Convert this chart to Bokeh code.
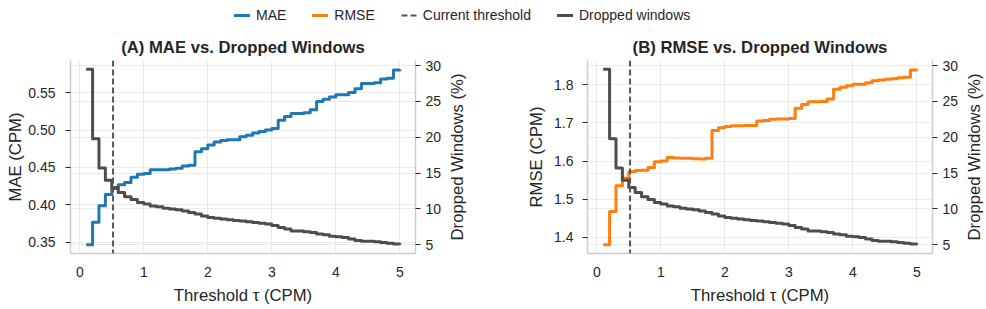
import math
from bokeh.plotting import figure
from bokeh.models import (Range1d, LinearAxis, FixedTicker, PrintfTickFormatter,
                          Span, Grid, Legend, LegendItem, Label)
from bokeh.layouts import column, row
from bokeh.embed import file_html
from bokeh.resources import INLINE

# ---------------- data ----------------
tau = [0.1, 0.2, 0.3, 0.4, 0.5, 0.6, 0.7, 0.8, 0.9, 1.0,
       1.1, 1.2, 1.3, 1.4, 1.5, 1.6, 1.7, 1.8, 1.9, 2.0,
       2.1, 2.2, 2.3, 2.4, 2.5, 2.6, 2.7, 2.8, 2.9, 3.0,
       3.1, 3.2, 3.3, 3.4, 3.5, 3.6, 3.7, 3.8, 3.9, 4.0,
       4.1, 4.2, 4.3, 4.4, 4.5, 4.6, 4.7, 4.8, 4.9, 5.0]

mae = [0.347, 0.377, 0.399, 0.414, 0.422, 0.427, 0.430, 0.437, 0.441, 0.442,
       0.447, 0.447, 0.447, 0.448, 0.449, 0.452, 0.453, 0.471, 0.475, 0.480,
       0.484, 0.486, 0.487, 0.487, 0.491, 0.493, 0.496, 0.498, 0.500, 0.502,
       0.513, 0.518, 0.522, 0.522, 0.523, 0.527, 0.538, 0.541, 0.544, 0.547,
       0.547, 0.550, 0.555, 0.562, 0.562, 0.563, 0.568, 0.569, 0.580, 0.581]

rmse = [1.381, 1.468, 1.535, 1.555, 1.572, 1.575, 1.576, 1.583, 1.598, 1.600,
        1.609, 1.608, 1.607, 1.607, 1.606, 1.605, 1.607, 1.680, 1.687, 1.690,
        1.692, 1.692, 1.693, 1.693, 1.705, 1.706, 1.709, 1.710, 1.710, 1.711,
        1.738, 1.748, 1.755, 1.755, 1.756, 1.762, 1.788, 1.793, 1.797, 1.801,
        1.801, 1.805, 1.810, 1.812, 1.814, 1.815, 1.818, 1.819, 1.838, 1.840]

dropped = [29.5, 19.8, 15.7, 14.0, 13.0, 12.3, 11.7, 11.3, 10.9, 10.7,
           10.4, 10.3, 10.1, 10.0, 9.9, 9.7, 9.5, 9.3, 9.0, 8.8,
           8.7, 8.6, 8.5, 8.4, 8.3, 8.2, 8.1, 8.0, 7.9, 7.7,
           7.4, 7.2, 6.9, 6.9, 6.8, 6.7, 6.5, 6.4, 6.2, 6.1,
           6.0, 5.8, 5.6, 5.5, 5.5, 5.4, 5.3, 5.2, 5.1, 5.0]

current_threshold = 0.52

x_ticks = [0, 1, 2, 3, 4, 5]
mae_ticks = [0.35, 0.40, 0.45, 0.50, 0.55]
rmse_ticks = [1.4, 1.5, 1.6, 1.7, 1.8]
pct_ticks = [5, 10, 15, 20, 25, 30]

MAE_COLOR = "#1f77b4"
RMSE_COLOR = "#ff7f0e"
DROP_COLOR = "#4d4d4d"
THR_COLOR = "#555555"
TEXT = "#262626"
GRID = "#ebebeb"
SPINE = "#cccccc"
FONT = "Liberation Sans"

FRAME_W, FRAME_H = 345, 193
TOP, BOTTOM = 30, 56
FIG_H = TOP + FRAME_H + BOTTOM


def padded(vals):
    lo, hi = min(vals), max(vals)
    d = hi - lo
    return Range1d(lo - 0.05 * d, hi + 0.05 * d)


def style_axis(ax, ticks, fmt, tick_len, standoff, label_standoff):
    ax.ticker = FixedTicker(ticks=ticks)
    ax.formatter = PrintfTickFormatter(format=fmt)
    ax.axis_line_color = SPINE
    ax.axis_line_width = 1.5
    ax.major_tick_in = 0
    ax.major_tick_out = tick_len
    ax.major_tick_line_color = TEXT
    ax.major_tick_line_width = 1
    ax.minor_tick_line_color = None
    ax.major_label_text_font = FONT
    ax.major_label_text_font_size = "14px"
    ax.major_label_text_color = TEXT
    ax.major_label_standoff = standoff
    ax.axis_label_text_font = FONT
    ax.axis_label_text_font_size = "16.7px"
    ax.axis_label_text_font_style = "normal"
    ax.axis_label_text_color = TEXT
    ax.axis_label_standoff = label_standoff


def panel(title, vals, color, ylabel, ticks, fmt, bl, br, left_std, left_lbl_std):
    p = figure(frame_width=FRAME_W, frame_height=FRAME_H,
               min_border_left=bl, min_border_right=br,
               min_border_top=TOP, min_border_bottom=BOTTOM,
               x_range=padded(tau), y_range=padded(vals),
               output_backend="svg", toolbar_location=None, title=title)
    p.extra_y_ranges = {"pct": padded(dropped)}
    p.outline_line_color = None
    p.background_fill_color = "white"
    p.border_fill_color = "white"

    p.title.align = "center"
    p.title.text_font = FONT
    p.title.text_font_size = "16.7px"
    p.title.text_font_style = "bold"
    p.title.text_color = TEXT
    p.title.standoff = 7

    xa = p.xaxis[0]
    style_axis(xa, x_ticks, "%d", 0, 13, 6)
    xa.axis_label = "Threshold τ (CPM)"

    ya = p.yaxis[0]
    style_axis(ya, ticks, fmt, 5, left_std, left_lbl_std)
    ya.axis_label = ylabel

    ra = LinearAxis(y_range_name="pct")
    style_axis(ra, pct_ticks, "%d", 5, 5, 0)
    p.add_layout(ra, "right")

    p.xgrid.ticker = FixedTicker(ticks=x_ticks)
    p.ygrid.ticker = FixedTicker(ticks=ticks)
    for g in (p.xgrid[0], p.ygrid[0]):
        g.grid_line_color = GRID
        g.grid_line_width = 1
    rg = Grid(dimension=1, ticker=FixedTicker(ticks=pct_ticks), y_range_name="pct",
              grid_line_color=GRID, grid_line_width=1)
    p.add_layout(rg)

    p.step(tau, vals, mode="after", line_color=color, line_width=3, line_join="round")
    span = Span(location=current_threshold, dimension="height", line_color=THR_COLOR,
                line_width=2, line_dash="6 3")
    p.add_layout(span)
    p.step(tau, dropped, mode="after", line_color=DROP_COLOR, line_width=3,
           line_join="round", y_range_name="pct")
    return p


def right_label(text, w=20):
    """Narrow strip holding the twin-axis title, reading bottom to top."""
    f = figure(frame_width=w, frame_height=FRAME_H, min_border_left=0, min_border_right=0,
               min_border_top=TOP, min_border_bottom=BOTTOM,
               x_range=Range1d(0, 1), y_range=Range1d(0, 1),
               x_axis_location=None, y_axis_location=None,
               output_backend="svg", toolbar_location=None)
    f.outline_line_color = None
    f.grid.visible = False
    f.add_layout(Label(x=w / 2, y=FRAME_H / 2, x_units="screen", y_units="screen",
                       text=text, angle=math.pi / 2,
                       text_align="center", text_baseline="middle",
                       text_font=FONT, text_font_size="16.7px", text_color=TEXT))
    return f


p1 = panel("(A) MAE vs. Dropped Windows", mae, MAE_COLOR, "MAE (CPM)",
           mae_ticks, "%.2f", 70, 32, 10, 0)
lab1 = right_label("Dropped Windows (%)")
p2 = panel("(B) RMSE vs. Dropped Windows", rmse, RMSE_COLOR, "RMSE (CPM)",
           rmse_ticks, "%.1f", 120, 32, 9, 5)
lab2 = right_label("Dropped Windows (%)")

# ---------------- legend strip ----------------
lg = figure(width=984, height=TOP, min_border=0, x_range=Range1d(0, 1), y_range=Range1d(0, 1),
            x_axis_location=None, y_axis_location=None,
            output_backend="svg", toolbar_location=None)
lg.outline_line_color = None
lg.grid.visible = False
off = [-10, -9]  # legend proxies kept outside the visible range
r_mae = lg.line(off, off, line_color=MAE_COLOR, line_width=3, line_cap="round")
r_rmse = lg.line(off, off, line_color=RMSE_COLOR, line_width=3, line_cap="round")
r_thr = lg.line(off, off, line_color=THR_COLOR, line_width=2, line_dash="6 3")
r_drop = lg.line(off, off, line_color=DROP_COLOR, line_width=3, line_cap="round")
legend = Legend(items=[LegendItem(label="MAE", renderers=[r_mae]),
                       LegendItem(label="RMSE", renderers=[r_rmse]),
                       LegendItem(label="Current threshold", renderers=[r_thr]),
                       LegendItem(label="Dropped windows", renderers=[r_drop])],
                orientation="horizontal", location=(234, 7),
                glyph_width=16, glyph_height=16, label_height=16, label_standoff=6,
                spacing=26, padding=0, margin=0,
                border_line_color=None, background_fill_alpha=0,
                label_text_font=FONT, label_text_font_size="14px", label_text_color=TEXT)
lg.add_layout(legend, "center")

layout = column(lg, row(p1, lab1, p2, lab2))
open("out.html", "w").write(file_html(layout, INLINE))
